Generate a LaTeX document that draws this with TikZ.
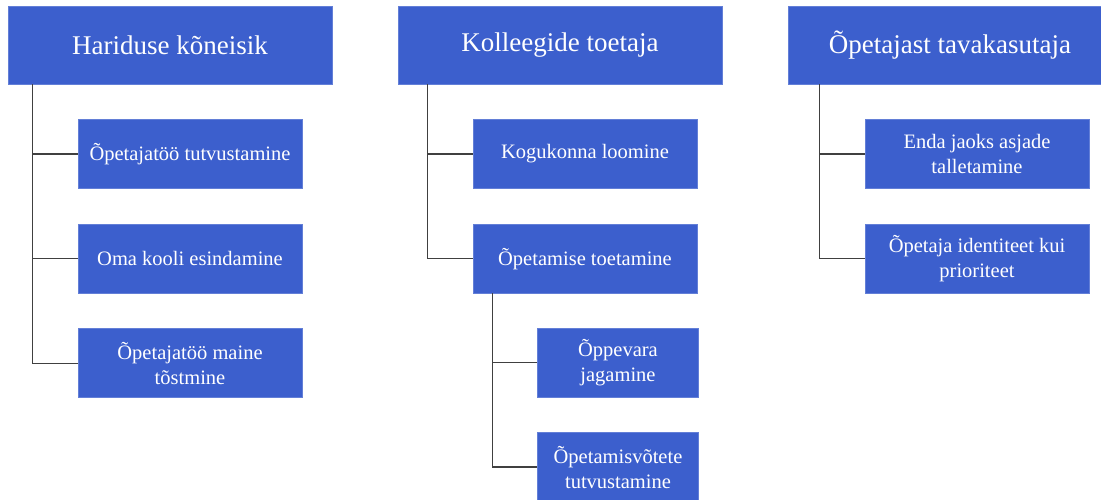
\documentclass[tikz,border=0pt]{standalone}
\usepackage{fontspec}
\setmainfont{Liberation Serif}
\newfontfamily\boxfont{Liberation Serif}
\usetikzlibrary{positioning}
\definecolor{boxblue}{HTML}{3C5FCD}
\definecolor{linegrey}{HTML}{404040}
\tikzset{
 rolebox/.style={fill=boxblue, draw=boxblue!80!white, line width=0.6pt, text=white,
  minimum width=324pt, minimum height=78pt, inner sep=0pt,
  font=\boxfont\fontsize{27}{32}\selectfont},
 taskbox/.style={fill=boxblue, draw=boxblue!80!white, line width=0.6pt, text=white,
  minimum width=224pt, minimum height=69pt, inner sep=0pt, align=center,
  font=\boxfont\fontsize{20.5}{25}\selectfont},
 subbox/.style={taskbox, minimum width=161pt},
 branch/.style={draw=linegrey, line width=1.3pt},
}
\begin{document}
\begin{tikzpicture}[x=1pt, y=-1pt]
 \useasboundingbox (0,0) rectangle (1101,499);
 % top roles
 \node [rolebox] (kone) at (170,45) {Hariduse kõneisik};
 \node [rolebox] (toet) at (560,45) {Kolleegide toetaja};
 \node [rolebox] (tava) at (950,45) {Õpetajast tavakasutaja};
 % first column
 \node [taskbox] (tutv) at (190,154) {Õpetajatöö tutvustamine};
 \node [taskbox, below=35pt of tutv] (esin) {Oma kooli esindamine};
 \node [taskbox, below=35pt of esin] (maine) {Õpetajatöö maine\\tõstmine};
 % second column
 \node [taskbox] (kogu) at (585,154) {Kogukonna loomine};
 \node [taskbox, below=35pt of kogu] (opet) {Õpetamise toetamine};
 \node [subbox] (vara) at (618,362.5) {Õppevara\\jagamine};
 \node [subbox, below=35pt of vara] (votte) {Õpetamisvõtete\\tutvustamine};
 % third column
 \node [taskbox] (enda) at (977,154) {Enda jaoks asjade\\talletamine};
 \node [taskbox, below=35pt of enda] (iden) {Õpetaja identiteet kui\\prioriteet};
 % connectors
 \draw [branch] ([xshift=25pt]kone.south west) |- (tutv.west);
 \draw [branch] ([xshift=25pt]kone.south west) |- (esin.west);
 \draw [branch] ([xshift=25pt]kone.south west) |- (maine.west);
 \draw [branch] ([xshift=30pt]toet.south west) |- (kogu.west);
 \draw [branch] ([xshift=30pt]toet.south west) |- (opet.west);
 \draw [branch] ([xshift=20pt]opet.south west) |- (vara.west);
 \draw [branch] ([xshift=20pt]opet.south west) |- (votte.west);
 \draw [branch] ([xshift=32pt]tava.south west) |- (enda.west);
 \draw [branch] ([xshift=32pt]tava.south west) |- (iden.west);
\end{tikzpicture}
\end{document}
